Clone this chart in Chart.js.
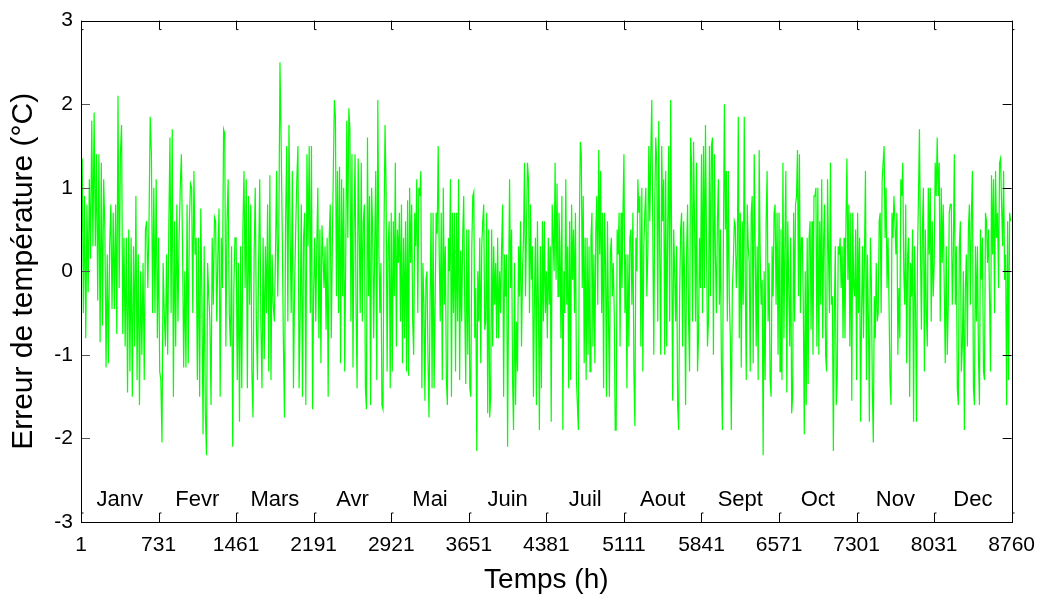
<!DOCTYPE html>
<html>
<head>
<meta charset="utf-8">
<title>Erreur de temperature</title>
<script src="https://cdn.jsdelivr.net/npm/chart.js@4.4.1/dist/chart.umd.min.js"></script>
<style>
  body { margin: 0; background: #fff; }
  canvas { display: block; }
</style>
</head>
<body>
<canvas id="canvas1" width="1046" height="597"></canvas>
<script>
// hours where each month starts (and the last hour)
var xTicks = [1, 731, 1461, 2191, 2921, 3651, 4381, 5111, 5841, 6571, 7301, 8031, 8760];
var yTicks = [-3, -2, -1, 0, 1, 2, 3];
var months = ["Janv", "Fevr", "Mars", "Avr", "Mai", "Juin", "Juil", "Aout", "Sept", "Oct", "Nov", "Dec"];

// temperature error (°C), evenly spread in each month
var janv = [0, 1.35, -0.5, 0.9, -0.8, 0.8, -0.25, 1.1, 0.15, 1.8, 0.3, 1.9, 0.3, 1.4, -0.35, 1.4, -0.85, 1.3, -0.65, 1.1, 0.5, -1.15, 0.2, -1.1, 0.3, 0.8, -0.45, 0.7, -0.45, 0.8, -0.75, 2.1, -0.2, 1.4, 1.75, -0.75, 0.4, -0.9, 0.4, -1.45, 0.5, -1.2, 0.4, -1.5, 0.3, -0.9, 0.9, -1.3, 0.2, -1.6, 0.0, -1.0, 0.1, -1.3, 0.5, 0.6, -0.2, 0.6, 1.85, 1.4, -0.5, 1.0, -0.5, 1.1, -0.8];
var fevr = [0.4, -1.2, -1.3, -2.05, 0.1, -0.5, -0.9, 0.2, -1.0, 0.55, 1.6, -0.5, 1.7, -1.5, 0.6, -0.9, 0.8, -0.6, 0.4, 1.0, 1.4, 0.3, -1.15, 0.0, -1.15, 0.8, -1.1, 0.6, 1.05, 1.0, -0.5, 1.2, 0.2, 0.4, -1.3, 0.4, -1.5, 0.75, -0.3, -1.95, 0.3, -1.7, -2.2, 0.1, -0.3, -0.6, -1.6, 0.4, -0.4, 0.65, 0.6, -0.6, 0.2, 0.75, -1.5, 0.4, -0.2, 1.7, 1.65, -0.9, 0.6, 1.1, -0.5, -0.9, 0.3, -2.1, -0.2, 0.4];
var mars = [0.4, -1.3, 0.1, -1.8, 0.3, -1.4, 0.5, 1.2, -0.2, 1.1, -1.4, 0.9, -0.4, 0.8, -1.2, -1.75, 0.2, 1.0, -0.6, -1.3, 0.1, 1.1, -0.6, -1.4, 0.4, -1.05, 0.3, -0.5, 0.8, -1.2, 1.15, -1.3, 0.2, -0.4, -0.6, 0.2, 1.2, -0.3, 0.5, 2.5, 1.6, 0.5, -0.8, -1.75, 0.6, 1.5, -0.6, 1.75, 0.5, -0.5, 1.2, -1.4, -0.2, 0.5, 1.1, 1.5, -1.4, -0.5, 0.8, -1.5, 0.4, 0.7, -1.6, 1.4, 0.3, 1.5, -0.5, 1.5, -1.65];
var avr = [-0.2, 0.4, -0.6, 0.3, 1.0, -0.8, 0.5, -1.1, 0.55, 0.2, -0.2, 0.3, -0.7, 0.4, -1.5, 0.4, 0.8, -0.8, 0.3, 1.2, 2.05, 1.85, -0.3, 1.2, -0.5, 1.25, -1.1, 1.1, -0.3, 1.0, -1.2, 0.2, 1.8, 0.4, 1.95, 1.7, -0.6, 1.4, -1.15, 0.5, 1.4, -0.5, -1.4, 1.35, 0.5, -0.5, 1.3, -0.6, 0.6, 0.8, -1.4, -1.65, 1.6, -0.3, 0.9, -1.6, 1.0, 0.5, -0.8, 0.3, 1.2, -1.3, 2.05, 0.3, -0.5, 0.1, -1.6, -1.65, 0.5, 1.75, 1.0, -1.2, 0.3, 0.6, -1.4];
var mai = [0.7, -1.2, 0.6, -0.3, 1.3, -0.9, 0.5, 0.1, 0.7, -0.6, 0.8, -1.1, 0.4, -0.8, 0.6, -1.2, 0.85, -1.25, 1.0, 0.1, 0.8, -0.6, -1.0, 0.7, 0.3, 1.1, -0.5, 1.0, 0.9, 1.2, -1.4, 0.1, -0.4, -1.55, -0.1, 0.0, -1.05, -1.75, -0.4, 0.7, -1.4, 0.7, -1.4, -0.4, 0.7, 0.45, 1.5, 0.2, -0.6, 0.7, -1.3, 1.0, -0.4, 0.3, -1.3, -1.6, 0.4, 0.0, 1.1, -1.5, 0.7, -0.5, 0.7, -1.2, 0.7, -0.6, 1.1, -1.3, 0.25, -0.6, 0.4, 0.9, -0.4, -1.35, 0.5, -1.0];
var juin = [0.5, -1.4, -1.5, 0.3, 0.9, 0.95, -0.8, -0.2, -2.15, 0.0, -0.6, 0.4, -1.1, 0.3, 0.6, 0.8, -0.7, -0.6, 0.7, -1.7, 0.5, -1.75, -1.5, 0.5, -0.9, 0.3, -0.4, 0.1, -0.8, 0.4, -0.8, 0.0, -0.5, 0.3, 0.8, -1.5, 0.2, -0.3, 0.2, -2.1, -0.2, 1.1, -0.2, 0.5, -1.3, -1.9, 0.1, -1.6, -0.6, -1.2, 0.3, -0.3, 0.6, -0.9, 0.0, 0.4, 1.3, -0.3, 0.5, 1.3, 1.1, -0.5, 0.8, -0.1, 0.3, -1.5, -0.3, 0.4, -1.6, 0.6, -0.4, -1.9, 0.3, -1.4, 0.6, -0.6, 0.6, -0.5];
var juil = [0.0, -0.8, 0.4, -0.4, 0.3, -1.8, 0.8, 0.4, 0.0, 1.3, -0.1, 1.05, -0.3, 0.7, 0.3, -0.8, 0.9, -1.9, 0.0, -0.5, 1.1, -0.4, 0.3, -1.4, 0.6, -1.3, 0.8, -0.1, 0.5, -0.5, 0.7, -1.3, -1.6, -1.9, 0.5, 1.55, 1.4, -0.2, 0.9, -1.1, 0.4, -1.3, 0.4, -1.0, 0.3, -1.2, 0.4, 0.7, -0.9, 0.2, -1.1, 0.5, 0.9, -0.4, 1.45, 0.2, 1.2, -0.5, 0.7, -1.4, 0.7, 0.1, -1.5, 0.6, -0.5, -1.5, 0.2, 0.4, -0.3, 0.1, -0.5, -1.9, -1.9, 0.5, 0.2, 0.7, -0.9, 0.7, -0.2, 0.7];
var aout = [1.4, -0.5, 0.2, -1.4, 0.2, -0.9, 0.4, 0.5, -0.4, 0.7, -1.2, -1.85, 0.4, 0.0, 1.1, 0.7, 0.9, -0.9, 1.0, -1.2, 0.3, 0.7, 1.0, -0.3, 0.2, 1.5, 0.6, 1.4, 2.05, 0.5, -1.0, 0.8, 1.6, 1.3, -0.6, 1.8, 0.2, -1.0, 1.5, 0.6, 1.1, -1.0, 1.2, -0.9, 0.5, 1.5, -0.6, 2.05, 0.3, -1.55, 0.5, 0.0, -0.6, 0.3, -1.6, -1.9, -0.3, 0.5, 0.7, -0.9, 0.6, -0.1, -1.6, 0.2, 0.8, -0.6, -1.2, 1.6, 1.3, -0.6, 1.55, 0.6, -0.6, 1.3, -1.2, -0.8, 0.4, -0.2];
var sept = [1.4, -0.5, 1.5, -0.2, 1.75, 0.4, -0.9, -0.6, 1.5, -0.3, 1.5, 1.6, -1.0, 1.4, 0.2, -0.5, 0.6, 1.1, -0.4, 0.5, -1.1, -1.9, 0.3, 2.0, 0.5, 1.2, -0.6, 1.2, -0.3, -0.8, -1.9, -0.2, 0.1, 0.6, 0.55, -0.2, 0.2, 1.85, -0.8, 0.7, -1.15, 0.6, -0.4, 1.85, -0.1, -1.3, 0.8, 0.3, 0.1, -1.2, 0.7, 0.9, -1.1, 1.4, 0.3, -0.9, 0.3, -1.3, 1.45, 0.2, -0.4, -0.1, -2.2, 0.0, -1.3, 0.6, 1.2, -0.6, 0.1, -1.3, -1.5, 0.3, -0.3, 0.7, 0.8, -0.4, 0.7, -1.0];
var oct = [0.7, -1.2, 0.5, -1.3, 1.3, -0.8, 0.3, 1.2, -1.45, 0.6, -0.2, -0.9, 0.4, -1.7, -1.5, 0.7, -0.6, 0.8, 0.9, 1.45, -0.3, 1.4, -0.5, 0.4, 0.4, -0.4, -1.95, 0.0, -1.6, 0.4, -1.35, 0.4, 0.6, -0.7, 0.6, -1.0, 0.9, 0.9, 1.0, -0.9, 1.0, -1.0, 0.6, -0.4, 1.1, -0.8, 0.4, 0.8, -1.0, -1.2, 1.1, 0.2, -0.5, 1.3, -0.4, -0.3, -2.15, -0.5, 0.3, -1.6, -1.3, 0.3, 0.2, 0.4, -0.2, 0.3, -0.8, 0.4, -0.8, 0.6, 1.35, -0.1, 0.8, -0.9, 0.7, -1.55, 0.7, -0.2, -0.3, 0.5];
var nov = [-1.3, 0.7, -0.5, 0.4, -1.8, -0.5, 0.3, -0.8, 0.2, 1.2, -1.3, 0.2, -0.6, -1.8, 0.4, -0.1, -1.4, -2.05, -0.3, -0.8, 0.1, -0.6, -0.5, 0.6, 0.7, -0.5, 1.1, 1.3, 1.5, 0.4, 1.0, -0.2, 0.4, -0.4, -1.3, -1.6, 0.7, 0.4, 0.9, 0.6, 0.2, 0.7, -1.0, -0.2, -0.8, 1.1, 0.9, 1.3, 0.0, -0.4, 0.8, -1.1, 0.2, 0.4, -1.5, 0.1, -0.3, 0.5, -1.8, 0.3, -0.4, -1.8, 0.2, 0.9, 1.7, 0.3, -0.7, 0.5, 1.0, -1.2, 0.5, -0.5, -0.9, 1.0, 0.2, 1.0, -0.6, 0.6, -0.3];
var dec = [0.1, 1.3, 0.9, 1.6, 0.9, 1.3, -0.6, 1.0, 0.1, 0.8, -0.2, -1.1, 0.3, -1.0, -0.4, 0.7, 0.8, 0.8, -0.4, 0.2, 1.4, -0.4, 0.3, -1.4, -1.6, 0.3, 0.6, -1.2, -0.9, 0.0, -1.9, -0.2, 0.2, -0.9, 0.5, 0.8, -0.4, 0.7, 1.2, -1.4, -1.6, 0.3, -0.6, 0.3, -1.0, -1.6, 0.5, -0.1, 0.4, -1.2, -1.3, 0.7, 0.6, 0.1, 0.5, -0.3, -1.2, 1.15, 0.2, 1.1, -0.5, 1.2, 0.4, 0.7, -0.2, 1.3, 1.35, 0.8, 0.3, 1.2, -0.1, 0.2, -1.6, 0.6, -1.3, 0.7, 0.6];

var monthData = [janv, fevr, mars, avr, mai, juin, juil, aout, sept, oct, nov, dec];

function buildPoints() {
  var pts = [];
  monthData.forEach((arr, m) => {
    var start = xTicks[m];
    var end = xTicks[m + 1];
    var step = (end - start) / arr.length;
    for (var i = 0; i < arr.length; i++) {
      pts.push({x: start + i * step, y: arr[i]});
    }
  });
  return pts;
}

// matlab style box, inward ticks and month names
var boxPlugin = {
  id: 'matlabBox',
  afterDatasetsDraw: function(chart) {
    var ctx = chart.ctx;
    var a = chart.chartArea;
    var xs = chart.scales.x;
    var ys = chart.scales.y;
    var tl = 9;
    ctx.save();
    ctx.strokeStyle = '#000';
    ctx.lineWidth = 1;

    ctx.beginPath();
    xTicks.forEach((v) => {
      var px = Math.round(xs.getPixelForValue(v)) + 0.5;
      ctx.moveTo(px, a.bottom);
      ctx.lineTo(px, a.bottom - tl);
      ctx.lineTo(px + 2, a.bottom - tl);
      ctx.moveTo(px, a.top);
      ctx.lineTo(px, a.top + tl);
      ctx.lineTo(px + 2, a.top + tl);
    });
    ctx.stroke();

    ctx.strokeStyle = '#555';
    ctx.beginPath();
    yTicks.forEach((v) => {
      var py = Math.round(ys.getPixelForValue(v)) + 0.5;
      ctx.moveTo(a.left, py);
      ctx.lineTo(a.left + tl, py);
    });
    ctx.stroke();

    ctx.strokeStyle = '#000';
    ctx.beginPath();
    yTicks.forEach((v) => {
      var py = Math.round(ys.getPixelForValue(v)) + 0.5;
      ctx.moveTo(a.right, py);
      ctx.lineTo(a.right - tl, py);
    });
    ctx.stroke();

    ctx.strokeRect(Math.round(a.left) + 0.5, Math.round(a.top) + 0.5, Math.round(a.right - a.left), Math.round(a.bottom - a.top));

    ctx.fillStyle = '#000';
    ctx.font = '22px Arial, "Liberation Sans", sans-serif';
    ctx.textAlign = 'center';
    ctx.textBaseline = 'alphabetic';
    months.forEach((name, m) => {
      var mid = xs.getPixelForValue((xTicks[m] + xTicks[m + 1]) / 2);
      ctx.fillText(name, mid, 506);
    });
    ctx.restore();
  }
};

Chart.defaults.font.family = 'Arial, "Liberation Sans", sans-serif';

var chart = new Chart(document.getElementById("canvas1"), {
  type: 'line',
  data: {
    datasets: [{
      data: buildPoints(),
      borderColor: '#00ff00',
      borderWidth: 1.2,
      pointRadius: 0,
      tension: 0,
      fill: false
    }]
  },
  options: {
    responsive: false,
    animation: false,
    parsing: false,
    layout: { padding: { top: 20, right: 30, left: 0, bottom: 0 } },
    plugins: {
      legend: { display: false },
      tooltip: { enabled: false }
    },
    scales: {
      x: {
        type: 'linear',
        min: 1,
        max: 8760,
        afterBuildTicks: function(scale) {
          scale.ticks = xTicks.map((v) => ({value: v}));
        },
        afterFit: function(scale) { scale.height = 75; },
        grid: { display: false, drawTicks: false },
        border: { display: false },
        ticks: {
          autoSkip: false,
          maxRotation: 0,
          padding: 11,
          color: '#000',
          font: { size: 21 },
          callback: function(v) { return String(v); }
        },
        title: {
          display: true,
          text: 'Temps (h)',
          color: '#000',
          font: { size: 28 },
          padding: { top: 0, bottom: 0 }
        }
      },
      y: {
        min: -3,
        max: 3,
        afterBuildTicks: function(scale) {
          scale.ticks = yTicks.map((v) => ({value: v}));
        },
        afterFit: function(scale) { scale.width = 81; },
        grid: { display: false, drawTicks: false },
        border: { display: false },
        ticks: {
          padding: 8,
          color: '#000',
          font: { size: 21 }
        },
        title: {
          display: true,
          text: 'Erreur de température (°C)',
          color: '#000',
          font: { size: 30 },
          padding: { top: 6, bottom: 0 }
        }
      }
    }
  },
  plugins: [boxPlugin]
});
</script>
</body>
</html>
